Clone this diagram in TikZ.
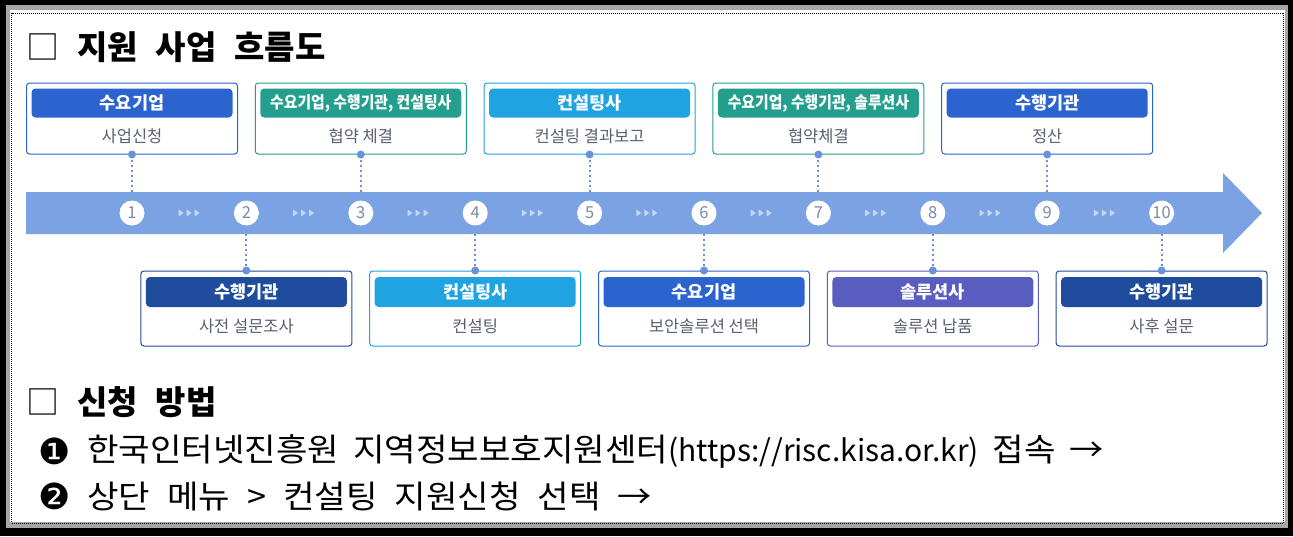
\documentclass[tikz,border=0pt]{standalone}
\usepackage{fontspec}
\setmainfont{Noto Sans CJK KR}
\newfontfamily\djfont{DejaVu Sans}
\newfontfamily\hanf[FakeStretch=1.07]{Noto Sans CJK KR}
\newfontfamily\condf[FakeStretch=0.9]{Noto Sans CJK KR}
\definecolor{arrowc}{HTML}{7BA3E3}
\definecolor{dotc}{HTML}{6A92DA}
\definecolor{cblue}{HTML}{2B63CF}
\definecolor{cteal}{HTML}{249F8E}
\definecolor{csky}{HTML}{1FA3E1}
\definecolor{cnavy}{HTML}{1F4C9C}
\definecolor{cpurp}{HTML}{5A5DC0}
\definecolor{subc}{HTML}{5A6070}
\definecolor{numc}{HTML}{7A8AA8}
\definecolor{chev}{HTML}{C5D5F2}
\newcommand\tgap{\hspace{18pt}}
\newcommand\bgap{\hspace{14pt}}
\newcommand\cgap{\hspace{17pt}}
\newcommand\latn[1]{{\fontsize{30}{30}\selectfont\rmfamily #1}}
\tikzset{
  topbox/.style={draw, rounded corners=3pt, line width=1pt, fill=white, minimum width=211pt, minimum height=71pt, inner sep=0pt},
  botbox/.style={draw, rounded corners=3pt, line width=1pt, fill=white, minimum width=211pt, minimum height=75pt, inner sep=0pt},
  hdr/.style={rounded corners=4pt, minimum width=201pt, minimum height=29pt, inner sep=0pt, text=white, font=\bfseries\fontsize{17.5}{17.5}\selectfont},
  longhdr/.style={hdr, font=\condf\bfseries\fontsize{16.5}{16.5}\selectfont},
  subt/.style={inner sep=0pt, text=subc, font=\fontsize{16.5}{16.5}\selectfont},
  numnode/.style={circle, fill=white, minimum size=25pt, inner sep=0pt, text=numc, font=\fontsize{16.5}{16.5}\selectfont},
  conn/.style={dotc, line width=2pt, dash pattern=on 2pt off 3pt},
  heading/.style={anchor=west, inner sep=0pt, font=\bfseries\fontsize{33}{33}\selectfont},
  bodyline/.style={anchor=west, inner sep=0pt, font=\hanf\fontsize{32}{32}\selectfont},
  bullet/.style={anchor=west, inner sep=0pt, font=\djfont\fontsize{36}{36}\selectfont},
}
\begin{document}
\begin{tikzpicture}[x=1pt,y=-1pt]
\useasboundingbox (0,0) rectangle (1293,536);
% frame
\fill[black] (0,0) rectangle (1293,536);
\fill[black!35] (6,5) rectangle (1288,528);
\fill[white] (10,10) rectangle (1285,522);
\draw[black, line width=0.8pt, dash pattern=on 1pt off 1pt] (11.5,13) rectangle (1283,523);

% headings
\node[heading] (title) at (26,47) {{\mdseries □}\tgap 지원\tgap 사업\tgap 흐름도};
\node[heading] (title2) at (26,402) {{\mdseries □}\tgap 신청\tgap 방법};

% arrow
\fill[arrowc] (26,192) -- (1223,192) -- (1223,173) -- (1262,213) -- (1223,253) -- (1223,234) -- (26,234) -- cycle;

% chevrons
\foreach \m in {189.2,303.6,418,532.4,646.8,761.2,875.6,990,1104.4}{
  \foreach \d in {-8,0,8}{
    \fill[chev] (\m+\d-2.5,209.5) -- (\m+\d+2.5,213) -- (\m+\d-2.5,216.5) -- cycle;
  }
}

% top boxes
\node[topbox, draw=cblue] (b1) at (132,118.5) {};
\node[hdr, fill=cblue] (h1) at (132,103) {수요기업};
\node[subt] (s1) at (132,136) {사업신청};

\node[topbox, draw=cteal] (b3) at (360.8,118.5) {};
\node[longhdr, fill=cteal] (h3) at (360.8,103) {수요기업, 수행기관, 컨설팅사};
\node[subt] (s3) at (360.8,136) {협약 체결};

\node[topbox, draw=csky] (b5) at (589.6,118.5) {};
\node[hdr, fill=csky] (h5) at (589.6,103) {컨설팅사};
\node[subt] (s5) at (589.6,136) {컨설팅 결과보고};

\node[topbox, draw=cteal] (b7) at (818.4,118.5) {};
\node[longhdr, fill=cteal] (h7) at (818.4,103) {수요기업, 수행기관, 솔루션사};
\node[subt] (s7) at (818.4,136) {협약체결};

\node[topbox, draw=cblue] (b9) at (1047.2,118.5) {};
\node[hdr, fill=cblue] (h9) at (1047.2,103) {수행기관};
\node[subt] (s9) at (1047.2,136) {정산};

% bottom boxes
\node[botbox, draw=cnavy] (b2) at (246.4,308.5) {};
\node[hdr, fill=cnavy, minimum height=30pt] (h2) at (246.4,292) {수행기관};
\node[subt] (s2) at (246.4,326) {사전 설문조사};

\node[botbox, draw=csky] (b4) at (475.2,308.5) {};
\node[hdr, fill=csky, minimum height=30pt] (h4) at (475.2,292) {컨설팅사};
\node[subt] (s4) at (475.2,326) {컨설팅};

\node[botbox, draw=cblue] (b6) at (704,308.5) {};
\node[hdr, fill=cblue, minimum height=30pt] (h6) at (704,292) {수요기업};
\node[subt] (s6) at (704,326) {보안솔루션 선택};

\node[botbox, draw=cpurp] (b8) at (932.8,308.5) {};
\node[hdr, fill=cpurp, minimum height=30pt] (h8) at (932.8,292) {솔루션사};
\node[subt] (s8) at (932.8,326) {솔루션 납품};

\node[botbox, draw=cnavy] (b10) at (1161.6,308.5) {};
\node[hdr, fill=cnavy, minimum height=30pt] (h10) at (1161.6,292) {수행기관};
\node[subt] (s10) at (1161.6,326) {사후 설문};

% connectors
\foreach \b/\x in {b1/132,b3/360.8,b5/589.6,b7/818.4,b9/1047.2}{
  \coordinate (t\b) at (\x,192);
  \draw[conn] (\b.south) -- (t\b);
  \fill[dotc] (\b.south) circle[radius=4pt];
}
\foreach \b/\x in {b2/246.4,b4/475.2,b6/704,b8/932.8,b10/1161.6}{
  \coordinate (t\b) at (\x,234);
  \draw[conn] (t\b) -- (\b.north);
  \fill[dotc] (\b.north) circle[radius=4pt];
}

% numbered circles
\foreach \i in {1,...,10}{
  \node[numnode] (c\i) at ({132+(\i-1)*114.4},213) {\i};
}

% body lines
\node[bullet] (n1) at (38,451) {❶};
\node[bodyline] (l1) at (87,451) {한국인터넷진흥원\bgap 지역정보보호지원센터\latn{(https://risc.kisa.or.kr)}\bgap 접속\bgap →};
\node[bullet] (n2) at (38,496) {❷};
\node[bodyline] (l2) at (87,496) {상단\cgap 메뉴\cgap >\cgap 컨설팅\cgap 지원신청\cgap 선택\cgap →};
\end{tikzpicture}
\end{document}
